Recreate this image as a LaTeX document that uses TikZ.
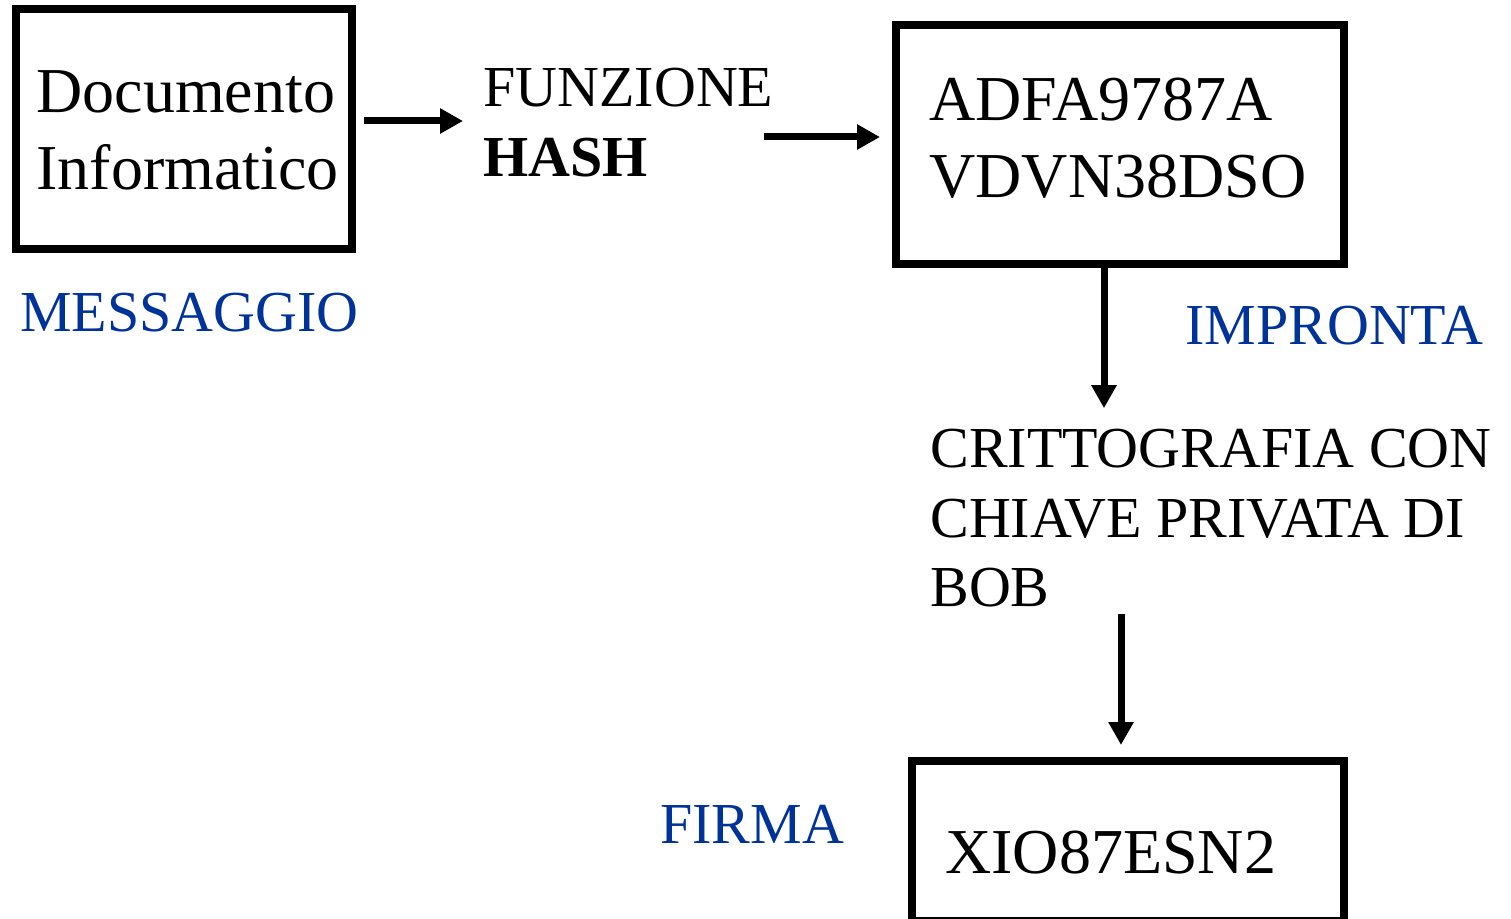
\documentclass[tikz,border=0pt]{standalone}
\usepackage{fontspec}
\setmainfont{Liberation Serif}
\usetikzlibrary{arrows.meta}

\definecolor{msgblue}{RGB}{0,51,153}

\tikzset{
	box/.style={draw, line width=4pt, inner sep=0pt},
	arr/.style={-{Triangle[length=11.5pt,width=12pt]}, line width=3.5pt},
	bigtxt/.style={font=\fontsize{32}{38.5}\selectfont, inner sep=0pt, anchor=base west, align=left},
	midtxt/.style={font=\fontsize{29}{35}\selectfont, inner sep=0pt, anchor=base west, align=left},
	bluetxt/.style={midtxt, text=msgblue}
}

\begin{document}
\begin{tikzpicture}[x=0.5pt,y=-0.5pt] % one unit = one pixel of the drawing
	
	\useasboundingbox (0,0) rectangle (1511,919);
	
	% -----------------------------
	% Boxes
	% -----------------------------
	\node[box, minimum width=168pt, minimum height=120pt] (doc) at (184,129) {};
	\node[box, minimum width=224pt, minimum height=119.5pt] (hash) at (1120,144.5) {};
	\node[box, minimum width=216pt, minimum height=80pt] (firma) at (1128,841) {};
	
	% -----------------------------
	% Texts (placed at the baseline of their last line)
	% -----------------------------
	\node[bigtxt] (doctxt) at (36,190) {Documento\\Informatico};
	\node[midtxt] (fn) at (483,177) {FUNZIONE\\\textbf{HASH}};
	\node[bigtxt] (hashtxt) at (929,198) {ADFA9787A\\VDVN38DSO};
	\node[midtxt] (crypto) at (930,607) {CRITTOGRAFIA CON\\CHIAVE PRIVATA DI\\BOB};
	\node[bigtxt] (firmatxt) at (945,873) {XIO87ESN2};
	
	% blue captions
	\node[bluetxt] (msg) at (20,332) {MESSAGGIO};
	\node[bluetxt] (impr) at (1185,345) {IMPRONTA};
	\node[bluetxt] (sig) at (660,843) {FIRMA};
	
	% -----------------------------
	% Arrows
	% -----------------------------
	\coordinate (hashin) at ([xshift=-6pt,yshift=3.75pt]hash.west);
	\draw[arr, shorten <=4pt, shorten >=10pt] ([yshift=4pt]doc.east) -- ([yshift=4pt]doc.east -| fn.west);
	\draw[arr] ([xshift=-5pt]fn.east |- hashin) -- (hashin);
	\draw[arr, shorten >=10pt] ([xshift=-8pt]hash.south) -- ([xshift=-8pt]hash.south |- crypto.north);
	\draw[arr, shorten <=3pt, shorten >=6pt] ([xshift=-3.5pt]firma.north |- crypto.south) -- ([xshift=-3.5pt]firma.north);
	
\end{tikzpicture}
\end{document}
